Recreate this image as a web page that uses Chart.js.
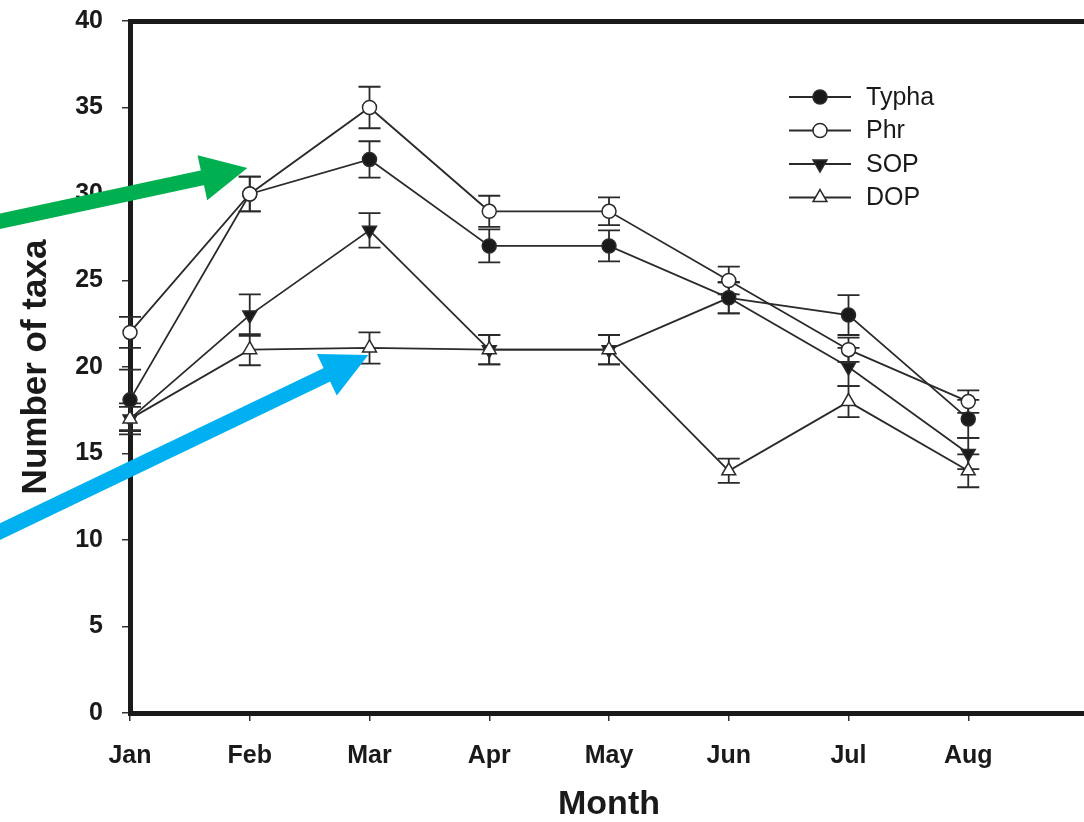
<!DOCTYPE html>
<html>
<head>
<meta charset="utf-8">
<script src="https://cdn.jsdelivr.net/npm/chart.js@4/dist/chart.umd.min.js"></script>
<style>
  html, body { margin: 0; padding: 0; background: #fff; overflow: hidden; }
  #wrap { width: 1088px; height: 822px; }
</style>
</head>
<body>
<div id="wrap"><canvas id="taxaChart" width="1088" height="822"></canvas></div>
<script>
// months on the x axis (Sep slot is left blank, axis runs past Aug)
const months = ["Jan", "Feb", "Mar", "Apr", "May", "Jun", "Jul", "Aug"];

// number of taxa
const typha    = [18.1, 30, 32, 27, 27, 24, 23, 17];
const typhaErr = [1.75, 1.0, 1.05, 0.95, 0.9, 0.9, 1.15, 1.1];
const phr      = [22, 30, 35, 29, 29, 25, 21, 18];
const phrErr   = [0.9, 1.0, 1.2, 0.9, 0.8, 0.8, 0.7, 0.65];
const sop      = [17, 23, 27.9, 21, 21, 24, 20, 15];
const sopErr   = [0.7, 1.2, 1.0, 0.85, 0.85, 0.9, 1.1, 0.9];
const dop      = [17, 21, 21.1, 21, 21, 14, 18, 14];
const dopErr   = [0.9, 0.9, 0.9, 0.85, 0.85, 0.7, 0.9, 0.95];

// annotation arrows, given in data units (tails sit left of the axis)
const arrows = [
  { from: [-1.17, 28.3], to: [0.98, 31.5], color: "#00B050" },
  { from: [-1.17, 10.2], to: [1.99, 20.7], color: "#00B0F0" }
];

const FONT = '"Liberation Sans", Arial, Helvetica, sans-serif';
const INK = "#1a1a1a";
const LINE = "#2a2a2a";

function series(label, values, errors, opts) {
  return Object.assign({
    label,
    data: values.map((v, i) => ({ x: i, y: v })),
    errors,
    borderColor: LINE,
    borderWidth: 1.8,
    pointBorderColor: LINE,
    pointBorderWidth: 1.5,
    pointRadius: 7,
    pointHoverRadius: 7,
    tension: 0,
    clip: false
  }, opts);
}

const errorBars = {
  id: "errorBars",
  beforeDatasetsDraw(chart) {
    const { ctx, scales: { x, y } } = chart;
    ctx.save();
    ctx.strokeStyle = LINE;
    ctx.lineWidth = 1.8;
    chart.data.datasets.forEach(ds => {
      ds.data.forEach((p, i) => {
        const e = ds.errors[i];
        const px = x.getPixelForValue(p.x);
        const top = y.getPixelForValue(p.y + e);
        const bot = y.getPixelForValue(p.y - e);
        ctx.beginPath();
        ctx.moveTo(px, top); ctx.lineTo(px, bot);
        ctx.moveTo(px - 11, top); ctx.lineTo(px + 11, top);
        ctx.moveTo(px - 11, bot); ctx.lineTo(px + 11, bot);
        ctx.stroke();
      });
    });
    ctx.restore();
  }
};

const legendBox = {
  id: "legendBox",
  afterDraw(chart) {
    const ctx = chart.ctx;
    chart.data.datasets.forEach((ds, i) => {
      const yy = 97 + i * 33.5;
      ctx.save();
      ctx.strokeStyle = LINE;
      ctx.lineWidth = 1.8;
      ctx.beginPath();
      ctx.moveTo(789, yy); ctx.lineTo(851, yy);
      ctx.stroke();
      ctx.fillStyle = ds.pointBackgroundColor;
      ctx.strokeStyle = LINE;
      ctx.lineWidth = 1.5;
      Chart.helpers.drawPoint(ctx, {
        pointStyle: ds.pointStyle,
        rotation: ds.pointRotation || 0,
        radius: ds.pointRadius,
        borderWidth: 1.5
      }, 820, yy);
      ctx.fillStyle = INK;
      ctx.font = "25px " + FONT;
      ctx.textBaseline = "middle";
      ctx.fillText(ds.label, 866, yy + 1);
      ctx.restore();
    });
  }
};

function drawArrow(ctx, x0, y0, x1, y1, color) {
  const ang = Math.atan2(y1 - y0, x1 - x0);
  const headLen = 46, headHalf = 23, shaft = 15;
  const bx = x1 - headLen * Math.cos(ang);
  const by = y1 - headLen * Math.sin(ang);
  ctx.strokeStyle = color;
  ctx.fillStyle = color;
  ctx.lineWidth = shaft;
  ctx.lineCap = "butt";
  ctx.beginPath();
  ctx.moveTo(x0, y0);
  ctx.lineTo(bx + 2 * Math.cos(ang), by + 2 * Math.sin(ang));
  ctx.stroke();
  ctx.beginPath();
  ctx.moveTo(x1, y1);
  ctx.lineTo(bx + headHalf * Math.sin(ang), by - headHalf * Math.cos(ang));
  ctx.lineTo(bx - headHalf * Math.sin(ang), by + headHalf * Math.cos(ang));
  ctx.closePath();
  ctx.fill();
}

const arrowLayer = {
  id: "arrowLayer",
  afterDraw(chart) {
    const { ctx, scales: { x, y } } = chart;
    ctx.save();
    arrows.forEach(a => {
      drawArrow(ctx,
        x.getPixelForValue(a.from[0]), y.getPixelForValue(a.from[1]),
        x.getPixelForValue(a.to[0]), y.getPixelForValue(a.to[1]),
        a.color);
    });
    ctx.restore();
  }
};

new Chart(document.getElementById("taxaChart"), {
  type: "line",
  data: {
    datasets: [
      series("Typha", typha, typhaErr, { pointStyle: "circle", pointBackgroundColor: INK, order: 2 }),
      series("Phr", phr, phrErr, { pointStyle: "circle", pointBackgroundColor: "#fff", order: 1 }),
      series("SOP", sop, sopErr, { pointStyle: "triangle", pointRotation: 180, pointBackgroundColor: INK, pointRadius: 8, pointHoverRadius: 8, order: 4 }),
      series("DOP", dop, dopErr, { pointStyle: "triangle", pointBackgroundColor: "#fff", pointRadius: 8, pointHoverRadius: 8, order: 3 })
    ]
  },
  options: {
    responsive: false,
    animation: false,
    events: [],
    layout: { padding: 0, autoPadding: false },
    plugins: {
      legend: { display: false },
      tooltip: { enabled: false }
    },
    scales: {
      x: {
        type: "linear",
        position: "bottom",
        min: 0,
        max: 8,
        ticks: {
          stepSize: 1,
          autoSkip: false,
          maxRotation: 0,
          padding: 20,
          color: INK,
          font: { family: FONT, size: 25, weight: "bold" },
          callback: v => months[v] ?? ""
        },
        grid: { drawOnChartArea: false, tickLength: 8, color: "#333", lineWidth: 1.5 },
        border: { color: INK, width: 5 },
        title: {
          display: true,
          text: "Month",
          color: INK,
          padding: 0,
          font: { family: FONT, size: 34, weight: "bold", lineHeight: 1 }
        },
        afterFit: s => { s.height = 109; s.paddingLeft = 0; s.paddingRight = 0; }
      },
      xTop: {
        type: "linear",
        position: "top",
        min: 0,
        max: 8,
        ticks: { display: false, padding: 0 },
        grid: { drawOnChartArea: false, drawTicks: false },
        border: { color: INK, width: 5 },
        afterFit: s => { s.height = 21; s.paddingLeft = 0; s.paddingRight = 0; }
      },
      y: {
        min: 0,
        max: 40,
        ticks: {
          stepSize: 5,
          padding: 19,
          color: INK,
          font: { family: FONT, size: 25, weight: "bold" }
        },
        grid: { drawOnChartArea: false, tickLength: 8, color: "#333", lineWidth: 1.5 },
        border: { color: INK, width: 5 },
        title: {
          display: true,
          text: "Number of taxa",
          color: INK,
          padding: { top: 19, bottom: 0 },
          font: { family: FONT, size: 35, weight: "bold", lineHeight: 1 }
        },
        afterFit: s => { s.width = 130; s.paddingTop = 0; s.paddingBottom = 0; }
      }
    }
  },
  plugins: [errorBars, legendBox, arrowLayer]
});
</script>
</body>
</html>
